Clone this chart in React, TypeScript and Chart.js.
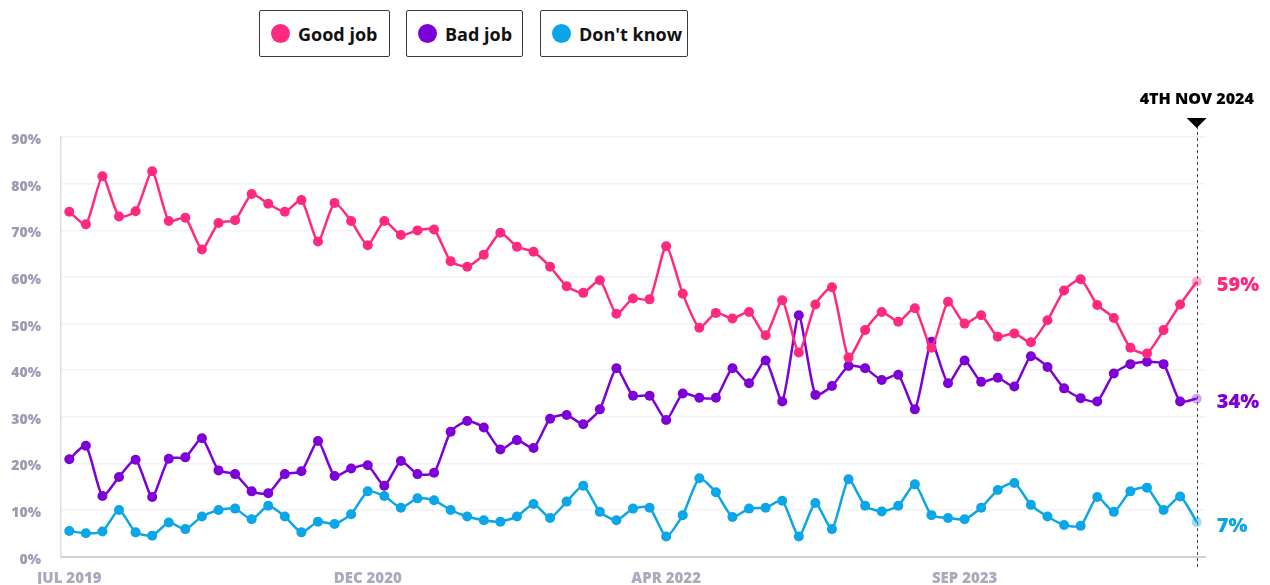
import React, { useEffect, useRef } from 'react';
import { Chart, registerables } from 'chart.js';

Chart.register(...registerables);

// ---- Data ----
const goodJob = [
  74.0, 71.3, 81.6, 73.0, 74.1, 82.7, 72.0, 72.7, 65.9, 71.6, 72.2, 77.8, 75.7, 74.0, 76.5, 67.6, 75.9,
  72.0, 66.8, 72.0, 69.0, 70.0, 70.2, 63.4, 62.2, 64.8, 69.5, 66.5, 65.4, 62.2, 58.0, 56.6, 59.3, 52.1,
  55.4, 55.2, 66.6, 56.4, 49.1, 52.3, 51.1, 52.5, 47.5, 55.0, 43.8, 54.1, 57.8, 42.7, 48.6, 52.5, 50.4, 53.3,
  44.8, 54.7, 50.0, 51.8, 47.2, 47.9, 46.0, 50.7, 57.1, 59.5, 54.0, 51.2, 44.8, 43.6, 48.6, 54.1, 59.0,
];
const badJob = [
  20.9, 23.8, 13.0, 17.1, 20.8, 12.8, 21.0, 21.3, 25.4, 18.5, 17.7, 14.0, 13.6, 17.7, 18.3, 24.8, 17.3,
  18.9, 19.6, 15.2, 20.5, 17.7, 18.0, 26.8, 29.1, 27.7, 23.0, 25.0, 23.3, 29.6, 30.4, 28.4, 31.6, 40.4,
  34.5, 34.5, 29.3, 35.0, 34.1, 34.1, 40.4, 37.2, 42.1, 33.3, 51.8, 34.7, 36.6, 40.9, 40.4, 37.9, 39.0, 31.6,
  46.1, 37.2, 42.1, 37.5, 38.4, 36.5, 43.0, 40.7, 36.1, 34.0, 33.3, 39.3, 41.3, 41.8, 41.3, 33.3, 33.9,
];
const dontKnow = [
  5.5, 5.0, 5.4, 10.0, 5.2, 4.5, 7.3, 5.9, 8.6, 10.0, 10.3, 8.0, 10.9, 8.6, 5.2, 7.5, 7.0,
  9.1, 14.0, 13.0, 10.5, 12.5, 12.1, 10.0, 8.6, 7.8, 7.5, 8.6, 11.3, 8.3, 11.8, 15.2, 9.6, 7.8,
  10.3, 10.5, 4.3, 8.9, 16.8, 13.8, 8.5, 10.3, 10.5, 12.0, 4.3, 11.5, 5.9, 16.6, 10.9, 9.7, 10.9, 15.5,
  8.9, 8.3, 8.0, 10.5, 14.3, 15.8, 11.1, 8.6, 6.8, 6.6, 12.8, 9.6, 14.0, 14.8, 10.0, 12.9, 7.4,
];
const seriesNames = ['Good job', 'Bad job', "Don't know"];
const seriesColors = ['#ff2a7f', '#7d00d6', '#0aa6e8'];
const seriesFaded = ['rgba(255,42,127,0.4)', 'rgba(125,0,214,0.35)', 'rgba(10,166,232,0.4)'];
const xTickLabels = ['JUL 2019', 'DEC 2020', 'APR 2022', 'SEP 2023'];
const xTickIndices = [0, 18, 36, 54];
const yMax = 90;
const yStep = 10;
const markerLabel = '4TH NOV 2024';

const seriesValues = [goodJob, badJob, dontKnow];
const categories = goodJob.map((_, i) => {
  const k = xTickIndices.indexOf(i);
  return k >= 0 ? xTickLabels[k] : '';
});

const markerPlugin = {
  id: 'marker',
  beforeDatasetsDraw(chart: any) {
    const { ctx, chartArea } = chart;
    const meta = chart.getDatasetMeta(0);
    const last = meta.data[meta.data.length - 1];
    if (!last) return;
    const x = Math.round(last.x) + 0.5;
    ctx.save();
    ctx.strokeStyle = '#4a4a55';
    ctx.lineWidth = 1;
    ctx.setLineDash([3, 3]);
    ctx.beginPath();
    ctx.moveTo(x, 126);
    ctx.lineTo(x, chartArea.bottom + 13);
    ctx.stroke();
    ctx.restore();
  },
  afterDraw(chart: any) {
    const { ctx } = chart;
    const meta = chart.getDatasetMeta(0);
    const n = meta.data.length;
    const x = meta.data[n - 1].x;
    ctx.save();
    // triangle
    ctx.fillStyle = '#000';
    ctx.beginPath();
    ctx.moveTo(x - 10, 118);
    ctx.lineTo(x + 10, 118);
    ctx.lineTo(x, 128);
    ctx.closePath();
    ctx.fill();
    // date text
    ctx.font = '800 16px "Open Sans"';
    ctx.textAlign = 'center';
    ctx.textBaseline = 'middle';
    ctx.fillText(markerLabel, x, 99);
    // end labels
    ctx.font = '800 20px "Open Sans"';
    ctx.textAlign = 'left';
    seriesValues.forEach((vals, i) => {
      const p = chart.getDatasetMeta(i).data[n - 1];
      ctx.fillStyle = seriesColors[i];
      ctx.fillText(Math.round(vals[vals.length - 1]) + '%', x + 20, p.y + 4);
    });
    ctx.restore();
  },
};

const legendBoxes = [
  { left: 259, width: 131 },
  { left: 406, width: 117 },
  { left: 540, width: 148 },
];

export default function App() {
  const ref = useRef<HTMLCanvasElement>(null);
  useEffect(() => {
    if (!ref.current) return;
    const n = goodJob.length;
    const chart = new Chart(ref.current, {
      type: 'line',
      data: {
        labels: categories,
        datasets: seriesValues.map((vals, i) => ({
          label: seriesNames[i],
          data: vals,
          borderColor: seriesColors[i],
          borderWidth: 2.5,
          tension: 0.2,
          pointRadius: 5,
          pointBorderWidth: 0,
          pointBackgroundColor: (c: any) => (c.dataIndex === n - 1 ? seriesFaded[i] : seriesColors[i]),
          pointBorderColor: seriesColors[i],
        })),
      },
      options: {
        animation: false,
        responsive: false,
        maintainAspectRatio: false,
        layout: { padding: { top: 137.2, right: 65, left: 0, bottom: 0 } },
        plugins: { legend: { display: false }, tooltip: { enabled: false } },
        scales: {
          x: {
            type: 'category',
            offset: true,
            grid: { display: true, drawOnChartArea: false, drawTicks: false },
            border: { display: true, color: '#cdd1d9', width: 2 },
            ticks: {
              autoSkip: false,
              maxRotation: 0,
              minRotation: 0,
              padding: 13,
              color: '#a7abbd',
              font: { family: '"Open Sans"', weight: 800, size: 15 },
              callback: (_v: any, i: number) => categories[i],
            },
            afterFit: (s: any) => { s.height = 27.5; },
          },
          y: {
            min: 0,
            max: yMax,
            grid: { color: '#f2f2f7', lineWidth: 1.5, drawTicks: false },
            border: { display: true, color: '#dddded', width: 1.5 },
            ticks: {
              stepSize: yStep,
              padding: 20,
              labelOffset: 3,
              color: '#9e9ab3',
              font: { family: '"Open Sans"', weight: 800, size: 14 },
              callback: (v: any) => v + '%',
            },
            afterFit: (s: any) => { s.width = 61; },
          },
        },
      },
      plugins: [markerPlugin],
    } as any);
    return () => chart.destroy();
  }, []);

  return (
    <div style={{ position: 'fixed', left: 0, top: 0, width: 1270, height: 585, background: '#fff' }}>
      {legendBoxes.map((b, i) => (
        <div
          key={i}
          style={{
            position: 'absolute',
            left: b.left,
            top: 10,
            width: b.width,
            height: 47,
            boxSizing: 'border-box',
            border: '1px solid #3a3a3a',
            borderRadius: 2,
            display: 'flex',
            alignItems: 'center',
            paddingLeft: 11,
            fontFamily: '"Open Sans", sans-serif',
            fontWeight: 700,
            fontSize: 18,
            color: '#111',
            whiteSpace: 'nowrap',
          }}
        >
          <span
            style={{
              display: 'inline-block',
              flex: '0 0 auto',
              width: 19,
              height: 19,
              borderRadius: '50%',
              background: seriesColors[i],
              marginRight: 8,
            }}
          />
          {seriesNames[i]}
        </div>
      ))}
      <canvas ref={ref} width={1270} height={585} style={{ position: 'absolute', left: 0, top: 0 }} />
    </div>
  );
}
